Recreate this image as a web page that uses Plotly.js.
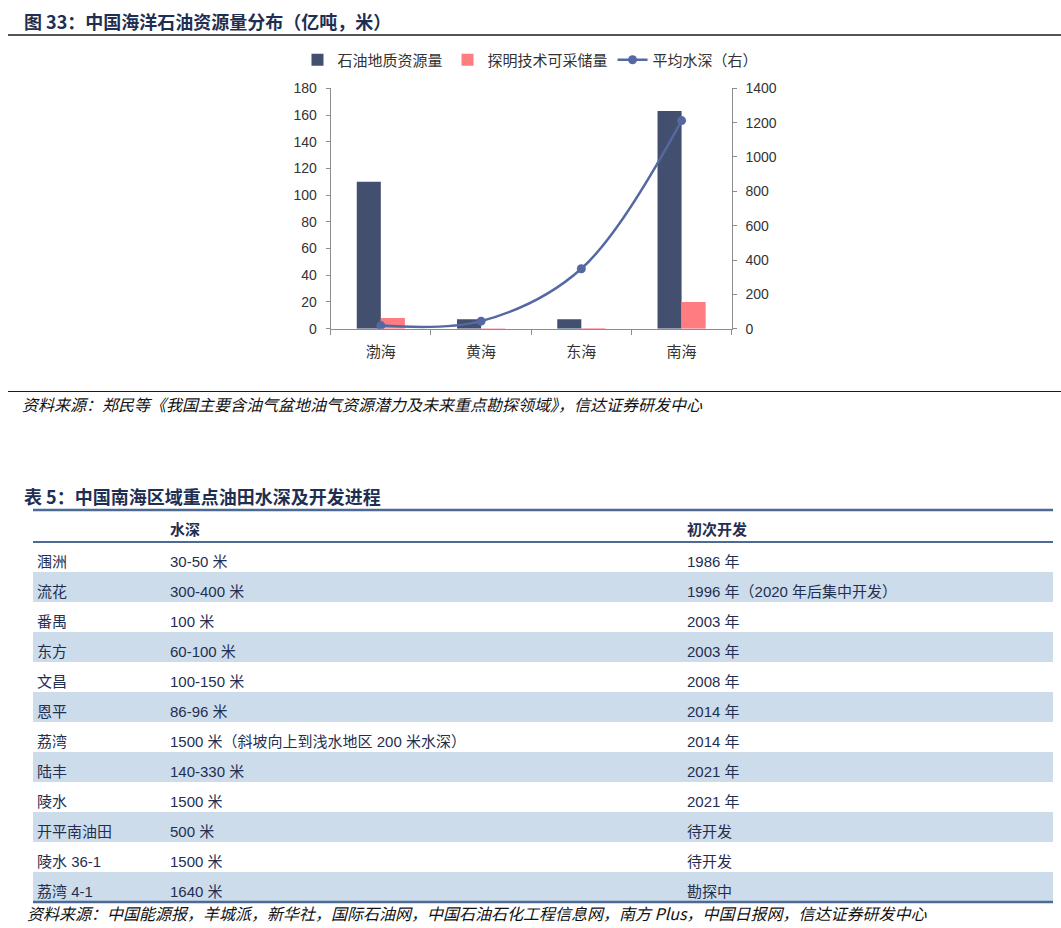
<!DOCTYPE html>
<html>
<head>
<meta charset="utf-8">
<script src="https://cdn.plot.ly/plotly-3.0.1.min.js"></script>
<style>
html,body{margin:0;padding:0;background:#fff;}
#chart{width:1061px;height:928px;}
</style>
</head>
<body>
<div id="chart"></div>
<script>
// ---- Chart data ----
const categories = ['渤海', '黄海', '东海', '南海'];
const resource = [110, 7, 7, 163];        // 石油地质资源量 (亿吨)
const recoverable = [8, 0.3, 0.6, 20];     // 探明技术可采储量 (亿吨)
const depth = [18, 44, 349, 1212];         // 平均水深 (米)
const seriesNames = ['石油地质资源量', '探明技术可采储量', '平均水深（右）'];

// ---- Table data ----
const tableHeader = ['', '水深', '初次开发'];
const fieldNames = ['涠洲', '流花', '番禺', '东方', '文昌', '恩平', '荔湾', '陆丰', '陵水', '开平南油田', '陵水 36-1', '荔湾 4-1'];
const fieldDepths = ['30-50 米', '300-400 米', '100 米', '60-100 米', '100-150 米', '86-96 米', '1500 米（斜坡向上到浅水地区 200 米水深）', '140-330 米', '1500 米', '500 米', '1500 米', '1640 米'];
const fieldYears = ['1986 年', '1996 年（2020 年后集中开发）', '2003 年', '2003 年', '2008 年', '2014 年', '2014 年', '2021 年', '2021 年', '待开发', '待开发', '勘探中'];

const W = 1061, H = 928;
const px = x => x / W;
const py = y => 1 - y / H;

const FONT = 'Liberation Sans, Arial, "Noto Sans CJK SC", sans-serif';
const CJK = '"Noto Sans CJK SC", "Liberation Sans", sans-serif';
const NAVY = '#1f2f52';
const AXIS = '#8c8c8c';

const rowFill = fieldNames.map((_, i) => i % 2 === 1 ? '#cddcea' : '#ffffff');
const blank = arr => arr.map(() => '');
const TEXT_SHIFT = 6;

const traces = [
  {
    type: 'bar', name: seriesNames[0], x: categories, y: resource,
    marker: {color: '#434f6e'}, xaxis: 'x', yaxis: 'y', hoverinfo: 'skip'
  },
  {
    type: 'bar', name: seriesNames[1], x: categories, y: recoverable,
    marker: {color: '#ff7c80'}, xaxis: 'x', yaxis: 'y', hoverinfo: 'skip'
  },
  {
    type: 'scatter', mode: 'lines+markers', name: seriesNames[2], x: categories, y: depth,
    line: {color: '#5468a2', width: 2.5, shape: 'spline', smoothing: 1},
    marker: {color: '#5468a2', size: 9},
    xaxis: 'x', yaxis: 'y2', hoverinfo: 'skip'
  },
  // row shading layer
  {
    type: 'table',
    domain: {x: [px(33), px(1053)], y: [py(902), py(510)]},
    columnwidth: [129, 517, 374],
    header: {
      values: blank(tableHeader), height: 32,
      fill: {color: 'rgba(0,0,0,0)'}, line: {width: 0, color: 'rgba(0,0,0,0)'},
      font: {family: FONT, size: 15}
    },
    cells: {
      values: [blank(fieldNames), blank(fieldDepths), blank(fieldYears)], height: 30,
      fill: {color: [rowFill, rowFill, rowFill]}, line: {width: 0, color: 'rgba(0,0,0,0)'},
      font: {family: FONT, size: 15}
    }
  },
  // text layer
  {
    type: 'table',
    domain: {x: [px(29), px(1053)], y: [py(902 + TEXT_SHIFT), py(510 + TEXT_SHIFT)]},
    columnwidth: [133, 517, 374],
    header: {
      values: tableHeader,
      align: 'left', height: 32,
      fill: {color: 'rgba(0,0,0,0)'},
      line: {width: 0, color: 'rgba(0,0,0,0)'},
      font: {family: FONT, size: 15, color: NAVY, weight: 'bold'}
    },
    cells: {
      values: [fieldNames, fieldDepths, fieldYears],
      align: 'left', height: 30,
      fill: {color: 'rgba(0,0,0,0)'},
      line: {width: 0, color: 'rgba(0,0,0,0)'},
      font: {family: FONT, size: 15, color: NAVY}
    }
  }
];

const layout = {
  width: W, height: H,
  margin: {l: 0, r: 0, t: 0, b: 0},
  paper_bgcolor: '#ffffff', plot_bgcolor: '#ffffff',
  showlegend: true,
  barmode: 'group', bargap: 0.52, bargroupgap: 0,
  legend: {
    orientation: 'h', x: 0.5, xanchor: 'center', y: py(60), yanchor: 'middle',
    font: {family: CJK, size: 15, color: '#333333'},
    itemwidth: 30, traceorder: 'normal', tracegroupgap: 0
  },
  xaxis: {
    domain: [px(330.7), px(731.7)], anchor: 'y',
    type: 'category', showline: true, linecolor: AXIS, linewidth: 1,
    ticks: 'outside', tickson: 'boundaries', ticklen: 5, tickcolor: AXIS,
    showgrid: false, zeroline: false,
    tickfont: {family: CJK, size: 15, color: '#333333'},
    ticklabelstandoff: 9
  },
  yaxis: {
    domain: [py(328.7), py(88.3)], anchor: 'x',
    range: [0, 180], dtick: 20, tick0: 0,
    showline: true, linecolor: AXIS, linewidth: 1,
    ticks: 'outside', ticklen: 4, tickcolor: AXIS,
    showgrid: false, zeroline: false,
    tickfont: {family: FONT, size: 14, color: '#333333'},
    ticklabelstandoff: 6
  },
  yaxis2: {
    overlaying: 'y', side: 'right', anchor: 'x',
    range: [0, 1400], dtick: 200, tick0: 0,
    showline: true, linecolor: AXIS, linewidth: 1,
    ticks: 'outside', ticklen: 4, tickcolor: AXIS,
    showgrid: false, zeroline: false,
    tickfont: {family: FONT, size: 14, color: '#333333'},
    ticklabelstandoff: 6
  },
  shapes: [
    {type: 'line', xref: 'paper', yref: 'paper', x0: px(8), x1: px(1061), y0: py(35), y1: py(35), line: {color: '#1a1a1a', width: 1.5}},
    {type: 'line', xref: 'paper', yref: 'paper', x0: px(8), x1: px(1061), y0: py(391.5), y1: py(391.5), line: {color: '#1a1a1a', width: 1}},
    {type: 'line', xref: 'paper', yref: 'paper', x0: px(33), x1: px(1053), y0: py(510), y1: py(510), line: {color: '#4c6a93', width: 2.5}},
    {type: 'line', xref: 'paper', yref: 'paper', x0: px(33), x1: px(1053), y0: py(542), y1: py(542), line: {color: '#4c6a93', width: 2}},
    {type: 'line', xref: 'paper', yref: 'paper', x0: px(33), x1: px(1053), y0: py(902), y1: py(902), line: {color: '#4c6a93', width: 2.5}}
  ],
  annotations: [
    {xref: 'paper', yref: 'paper', x: px(22), y: py(21), xanchor: 'left', yanchor: 'middle', showarrow: false,
     text: '图 33：中国海洋石油资源量分布（亿吨，米）', font: {family: CJK, size: 18, color: NAVY, weight: 'bold'}},
    {xref: 'paper', yref: 'paper', x: px(20), y: py(404), xanchor: 'left', yanchor: 'middle', showarrow: false,
     text: '<i>资料来源：郑民等《我国主要含油气盆地油气资源潜力及未来重点勘探领域》，信达证券研发中心</i>', font: {family: CJK, size: 16, color: '#111111'}},
    {xref: 'paper', yref: 'paper', x: px(22), y: py(496), xanchor: 'left', yanchor: 'middle', showarrow: false,
     text: '表 5：中国南海区域重点油田水深及开发进程', font: {family: CJK, size: 18, color: NAVY, weight: 'bold'}},
    {xref: 'paper', yref: 'paper', x: px(25), y: py(913), xanchor: 'left', yanchor: 'middle', showarrow: false,
     text: '<i>资料来源：中国能源报，羊城派，新华社，国际石油网，中国石油石化工程信息网，南方 Plus，中国日报网，信达证券研发中心</i>', font: {family: CJK, size: 16, color: '#111111'}}
  ]
};

Plotly.newPlot('chart', traces, layout, {displayModeBar: false, responsive: false, staticPlot: true});
</script>
</body>
</html>
